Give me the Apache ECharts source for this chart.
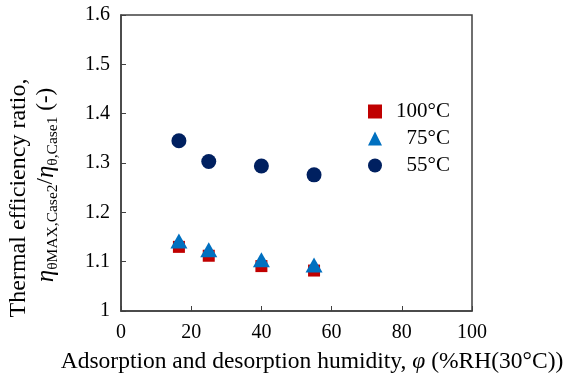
<!DOCTYPE html>
<html>
<head>
<meta charset="utf-8">
<script src="https://cdn.jsdelivr.net/npm/echarts@6/dist/echarts.min.js"></script>
<style>
  html, body { margin: 0; padding: 0; background: #fff; }
  #chart { width: 567px; height: 380px; }
</style>
</head>
<body>
<div id="chart"></div>
<script>
  // humidity (%RH) and efficiency ratio
  var humidity = [16.5, 25, 40, 55];
  var ratio100 = [1.130, 1.112, 1.091, 1.082];
  var ratio75 = [1.142, 1.124, 1.104, 1.093];
  var ratio55 = [1.345, 1.303, 1.294, 1.276];
  var seriesNames = ['100°C', '75°C', '55°C'];

  var serif = "'Liberation Serif', 'Times New Roman', serif";
  var axisColor = '#404040';

  function pairs(ys) {
    var out = [];
    for (var i = 0; i < humidity.length; i++) {
      out.push([humidity[i], ys[i]]);
    }
    return out;
  }

  var chart = echarts.init(document.getElementById('chart'));
  chart.setOption({
    animation: false,
    grid: {
      left: 121, right: 95, top: 15, bottom: 69,
      show: true, borderColor: axisColor, borderWidth: 1.5
    },
    legend: {
      orient: 'vertical',
      left: 363, top: 96,
      itemWidth: 14, itemHeight: 14,
      itemGap: 6,
      data: seriesNames,
      formatter: function (name) { return '{n|' + name + '}'; },
      textStyle: {
        rich: {
          n: { width: 63, align: 'right', fontFamily: serif, fontSize: 21, color: '#000', lineHeight: 20 }
        }
      }
    },
    xAxis: {
      type: 'value',
      min: 0, max: 100, interval: 20,
      axisLine: { show: true, lineStyle: { color: axisColor, width: 1.5 } },
      axisTick: { show: true, inside: true, length: 5, lineStyle: { color: axisColor } },
      splitLine: { show: false },
      axisLabel: { color: '#000', fontFamily: serif, fontSize: 20, margin: 12 }
    },
    yAxis: {
      type: 'value',
      min: 1, max: 1.6, interval: 0.1,
      axisLine: { show: true, lineStyle: { color: axisColor, width: 1.5 } },
      axisTick: { show: true, inside: true, length: 5, lineStyle: { color: axisColor } },
      splitLine: { show: false },
      axisLabel: { color: '#000', fontFamily: serif, fontSize: 20, margin: 11 }
    },
    graphic: [
      {
        type: 'text', x: 312, y: 362,
        style: {
          text: 'Adsorption and desorption humidity, {i|φ} (%RH(30°C))',
          fontFamily: serif, fontSize: 23.5, fill: '#000',
          align: 'center', verticalAlign: 'middle',
          rich: { i: { fontStyle: 'italic', fontFamily: serif, fontSize: 23.5 } }
        }
      },
      {
        type: 'text', x: 19, y: 198, rotation: Math.PI / 2,
        style: {
          text: 'Thermal efficiency ratio,',
          fontFamily: serif, fontSize: 24, fill: '#000',
          align: 'center', verticalAlign: 'middle'
        }
      },
      {
        type: 'text', x: 46, y: 185, rotation: Math.PI / 2,
        style: {
          text: '{e|η}{s|θMAX,Case2}{t|/}{e|η}{s|θ,Case1}{t| (-)}',
          fontFamily: serif, fill: '#000',
          align: 'center', verticalAlign: 'middle',
          rich: {
            e: { fontStyle: 'italic', fontFamily: serif, fontSize: 25, lineHeight: 30, verticalAlign: 'middle' },
            s: { fontFamily: serif, fontSize: 15.5, lineHeight: 30, verticalAlign: 'bottom' },
            t: { fontFamily: serif, fontSize: 23, lineHeight: 30, verticalAlign: 'middle' }
          }
        }
      }
    ],
    series: [
      {
        name: seriesNames[0], type: 'scatter', data: pairs(ratio100),
        symbol: 'rect', symbolSize: 12,
        itemStyle: { color: '#C00000', opacity: 1 }
      },
      {
        name: seriesNames[1], type: 'scatter', data: pairs(ratio75),
        symbol: 'triangle', symbolSize: [17, 15],
        itemStyle: { color: '#0070C0', opacity: 1 }
      },
      {
        name: seriesNames[2], type: 'scatter', data: pairs(ratio55),
        symbol: 'circle', symbolSize: 15,
        itemStyle: { color: '#002060', opacity: 1 }
      }
    ]
  });
</script>
</body>
</html>
